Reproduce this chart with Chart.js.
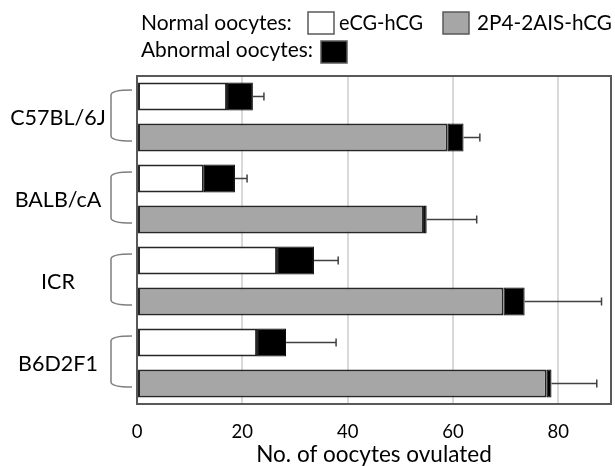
<!DOCTYPE html>
<html>
<head>
<meta charset="utf-8">
<script src="https://cdn.jsdelivr.net/npm/chart.js@4/dist/chart.umd.min.js"></script>
<style>
  body { margin: 0; background: #fff; }
  #wrap { width: 615px; height: 466px; position: relative; }
</style>
</head>
<body>
<div id="wrap"><canvas id="chart"></canvas></div>
<script>
// values (no. of oocytes)
const strains = ['C57BL/6J', 'BALB/cA', 'ICR', 'B6D2F1'];
const treatments = ['eCG-hCG', '2P4-2AIS-hCG'];
const normalECG = [17.1, 12.7, 26.6, 22.8];
const abnormalECG = [4.9, 5.9, 7.0, 5.5];
const errECG = [2.1, 2.3, 4.6, 9.5];
const normalP4 = [59.0, 54.5, 69.6, 77.8];
const abnormalP4 = [3.0, 0.5, 4.0, 0.9];
const errP4 = [3.1, 9.5, 14.6, 8.6];
const xTicks = [0, 20, 40, 60, 80];

const FONT = 'Lato, "Open Sans", sans-serif';
const WHITE = '#ffffff', GRAY = '#a6a6a6', BLACK = '#000000';

// one bar per strain x treatment, eCG first
const labels = [], normal = [], abnormal = [], err = [], fills = [];
strains.forEach((s, i) => {
  labels.push(s + ' ' + treatments[0]);
  normal.push(normalECG[i]); abnormal.push(abnormalECG[i]); err.push(errECG[i]); fills.push(WHITE);
  labels.push(s + ' ' + treatments[1]);
  normal.push(normalP4[i]); abnormal.push(abnormalP4[i]); err.push(errP4[i]); fills.push(GRAY);
});

const extras = {
  id: 'extras',
  afterDatasetsDraw(chart) {
    const { ctx, chartArea: a, scales: { x, y } } = chart;
    ctx.save();
    // error bars
    ctx.strokeStyle = '#404040';
    ctx.lineWidth = 1.5;
    labels.forEach((l, i) => {
      const tot = normal[i] + abnormal[i];
      const x1 = x.getPixelForValue(tot), x2 = x.getPixelForValue(tot + err[i]);
      const yy = y.getPixelForValue(i);
      ctx.beginPath();
      ctx.moveTo(x1, yy); ctx.lineTo(x2, yy);
      ctx.moveTo(x2, yy - 4); ctx.lineTo(x2, yy + 4);
      ctx.stroke();
    });
    // frame
    ctx.strokeStyle = '#595959';
    ctx.lineWidth = 2;
    ctx.strokeRect(a.left, a.top, a.right - a.left, a.bottom - a.top);

    // strain labels + brackets
    ctx.fillStyle = '#000';
    ctx.font = '21.5px ' + FONT;
    ctx.textAlign = 'center';
    ctx.textBaseline = 'middle';
    strains.forEach((s, i) => {
      const y1 = y.getPixelForValue(i * 2), y2 = y.getPixelForValue(i * 2 + 1);
      const mid = (y1 + y2) / 2;
      ctx.fillText(s, 58, mid + 1);
      const top = mid - 27, bot = mid + 24, xl = 111, xr = 132;
      ctx.strokeStyle = '#7f7f7f';
      ctx.lineWidth = 1.5;
      ctx.beginPath();
      ctx.moveTo(xr, top);
      ctx.quadraticCurveTo(xl, top, xl, top + 5);
      ctx.lineTo(xl, bot - 5);
      ctx.quadraticCurveTo(xl, bot, xr, bot);
      ctx.stroke();
    });

    // legend
    ctx.textAlign = 'left';
    ctx.textBaseline = 'alphabetic';
    ctx.font = '21px ' + FONT;
    ctx.lineWidth = 1.5;
    ctx.strokeStyle = '#595959';
    const box = (bx, by, col) => {
      ctx.fillStyle = col;
      ctx.fillRect(bx, by, 26, 22);
      ctx.strokeRect(bx, by, 26, 22);
    };
    const text = (t, tx, ty, mw) => { ctx.fillStyle = '#000'; ctx.fillText(t, tx, ty, mw); };
    text('Normal oocytes:', 141, 30, 162);
    box(308, 12, WHITE);
    text(treatments[0], 339, 30, 84);
    box(443, 12, GRAY);
    text(treatments[1], 477, 30, 135);
    text('Abnormal oocytes:', 141, 57, 172);
    box(321, 41, BLACK);
    ctx.restore();
  }
};

new Chart(document.getElementById('chart'), {
  type: 'bar',
  data: {
    labels: labels,
    datasets: [
      {
        label: 'Normal oocytes',
        data: normal,
        backgroundColor: fills,
        borderColor: '#262626',
        borderWidth: 2,
        borderSkipped: false,
        barPercentage: 0.68,
        categoryPercentage: 1,
      },
      {
        label: 'Abnormal oocytes',
        data: abnormal,
        backgroundColor: BLACK,
        borderColor: BLACK,
        borderWidth: 1,
        borderSkipped: false,
        barPercentage: 0.68,
        categoryPercentage: 1,
      },
    ],
  },
  options: {
    indexAxis: 'y',
    responsive: true,
    maintainAspectRatio: false,
    animation: false,
    layout: { padding: { left: 137, right: 4, top: 76, bottom: 0 } },
    plugins: { legend: { display: false }, tooltip: { enabled: false } },
    scales: {
      y: { stacked: true, display: false },
      x: {
        stacked: true,
        min: 0,
        max: 90,
        afterBuildTicks: axis => { axis.ticks = xTicks.map(v => ({ value: v })); },
        ticks: { color: '#000', font: { family: FONT, size: 18.5, lineHeight: 1 }, padding: 19 },
        grid: { color: '#d9d9d9', lineWidth: 2, drawTicks: false },
        border: { display: false },
        title: {
          display: true,
          text: 'No. of oocytes ovulated',
          color: '#000',
          font: { family: FONT, size: 22.5, lineHeight: 1 },
          padding: { top: -17, bottom: 0 },
        },
      },
    },
  },
  plugins: [extras],
});
</script>
</body>
</html>
